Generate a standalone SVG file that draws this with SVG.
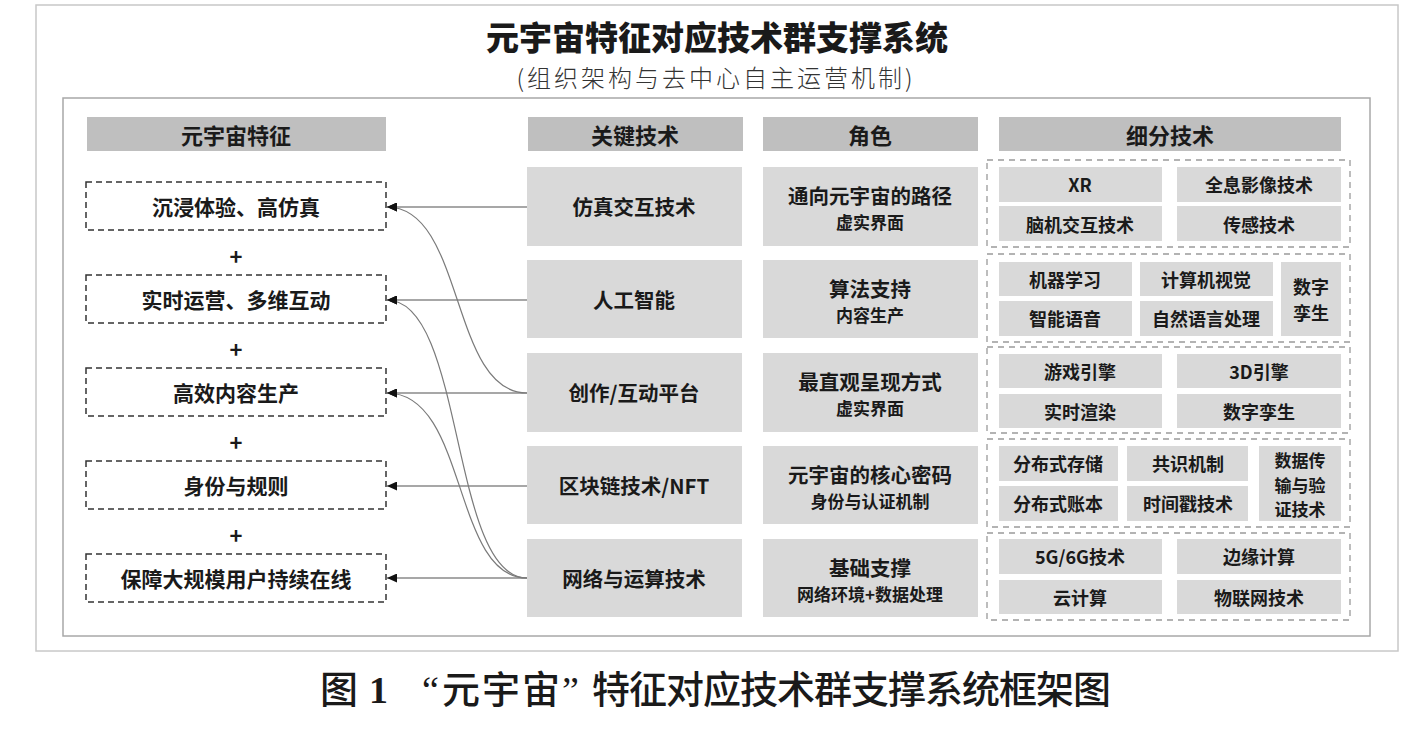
<svg xmlns="http://www.w3.org/2000/svg" width="1428" height="736" viewBox="0 0 1428 736">
<defs>
<style>
text{font-family:"Noto Sans CJK SC","Noto Sans",sans-serif;fill:#1a1a1a;text-anchor:middle;dominant-baseline:central}
.b{font-weight:700}
.hdr{fill:#bfbfbf}
.cell{fill:#d9d9d9}
.feat{fill:#fff;stroke:#333;stroke-width:1.5;stroke-dasharray:6 4}
.grp{fill:none;stroke:#9a9a9a;stroke-width:1.3;stroke-dasharray:6 5}
.h{font-size:22px;font-weight:700}
.f{font-size:21px;font-weight:700}
.k{font-size:20.5px;font-weight:700}
.m{font-size:20.5px;font-weight:700}
.s{font-size:17px;font-weight:700}
.c{font-size:18px;font-weight:700}
.c3{font-size:17px;font-weight:700}
.plus{font-size:22px;font-weight:700}
.ln{fill:none;stroke:#8a8a8a;stroke-width:1.3}
.cv{fill:none;stroke:#7a7a7a;stroke-width:1.2}
</style>
<marker id="ah" markerUnits="userSpaceOnUse" markerWidth="10" markerHeight="9" refX="10" refY="4.5" orient="auto">
<path d="M0,0 L10,4.5 L0,9 z" fill="#111"/>
</marker>
</defs>
<rect width="1428" height="736" fill="#fff"/>
<g id="frame">
<rect x="36" y="5" width="1362" height="646" fill="none" stroke="#c8c8c8" stroke-width="1.5"/>
<rect x="63" y="98" width="1307" height="538" fill="none" stroke="#a8a8a8" stroke-width="1.5"/>
</g>
<g id="title">
<text x="717" y="36" style="font-size:33px;font-weight:900">元宇宙特征对应技术群支撑系统</text>
<text x="716" y="76" style="font-size:24px;font-weight:300;fill:#333;letter-spacing:3px">(组织架构与去中心自主运营机制)</text>
</g>
<g id="headers">
<rect class="hdr" x="87" y="117" width="299" height="34"/><text class="h" x="236" y="134">元宇宙特征</text>
<rect class="hdr" x="528" y="117" width="215" height="34"/><text class="h" x="635" y="134">关键技术</text>
<rect class="hdr" x="763" y="117" width="215" height="34"/><text class="h" x="870" y="134">角色</text>
<rect class="hdr" x="999" y="117" width="342" height="34"/><text class="h" x="1170" y="134">细分技术</text>
</g>
<g id="features">
<g id="f1"><rect class="feat" x="86" y="182" width="300" height="48"/><text class="f" x="236" y="206">沉浸体验、高仿真</text></g>
<text class="plus" x="236" y="255">+</text>
<g id="f2"><rect class="feat" x="86" y="275" width="300" height="48"/><text class="f" x="236" y="299">实时运营、多维互动</text></g>
<text class="plus" x="236" y="348">+</text>
<g id="f3"><rect class="feat" x="86" y="368" width="300" height="48"/><text class="f" x="236" y="392">高效内容生产</text></g>
<text class="plus" x="236" y="441">+</text>
<g id="f4"><rect class="feat" x="86" y="461" width="300" height="48"/><text class="f" x="236" y="485">身份与规则</text></g>
<text class="plus" x="236" y="534">+</text>
<g id="f5"><rect class="feat" x="86" y="554" width="300" height="48"/><text class="f" x="236" y="578">保障大规模用户持续在线</text></g>
</g>
<g id="keytech">
<g id="k1"><rect class="cell" x="527" y="167" width="215" height="79"/><text class="k" x="634" y="206">仿真交互技术</text></g>
<g id="k2"><rect class="cell" x="527" y="260" width="215" height="78"/><text class="k" x="634" y="299">人工智能</text></g>
<g id="k3"><rect class="cell" x="527" y="353" width="215" height="79"/><text class="k" x="634" y="392">创作/互动平台</text></g>
<g id="k4"><rect class="cell" x="527" y="446" width="215" height="78"/><text class="k" x="634" y="485">区块链技术/NFT</text></g>
<g id="k5"><rect class="cell" x="527" y="539" width="215" height="78"/><text class="k" x="634" y="578">网络与运算技术</text></g>
</g>
<g id="roles">
<g id="r1"><rect class="cell" x="763" y="167" width="215" height="79"/><text class="m" x="870" y="195">通向元宇宙的路径</text><text class="s" x="870" y="221">虚实界面</text></g>
<g id="r2"><rect class="cell" x="763" y="260" width="215" height="78"/><text class="m" x="870" y="288">算法支持</text><text class="s" x="870" y="314">内容生产</text></g>
<g id="r3"><rect class="cell" x="763" y="353" width="215" height="79"/><text class="m" x="870" y="381">最直观呈现方式</text><text class="s" x="870" y="407">虚实界面</text></g>
<g id="r4"><rect class="cell" x="763" y="446" width="215" height="78"/><text class="m" x="870" y="474">元宇宙的核心密码</text><text class="s" x="870" y="500">身份与认证机制</text></g>
<g id="r5"><rect class="cell" x="763" y="539" width="215" height="78"/><text class="m" x="870" y="567">基础支撑</text><text class="s" x="870" y="593">网络环境+数据处理</text></g>
</g>
<g id="subtech">
<g id="g1">
<rect class="grp" x="987" y="160" width="363" height="87"/>
<rect class="cell" x="999" y="167" width="163" height="35"/><text class="c" x="1080" y="184">XR</text>
<rect class="cell" x="1177" y="167" width="164" height="35"/><text class="c" x="1259" y="184">全息影像技术</text>
<rect class="cell" x="999" y="206" width="163" height="35"/><text class="c" x="1080" y="224">脑机交互技术</text>
<rect class="cell" x="1177" y="206" width="164" height="35"/><text class="c" x="1259" y="224">传感技术</text>
</g>
<g id="g2">
<rect class="grp" x="987" y="254" width="363" height="88"/>
<rect class="cell" x="999" y="262" width="133" height="34"/><text class="c" x="1065" y="279">机器学习</text>
<rect class="cell" x="1140" y="262" width="133" height="34"/><text class="c" x="1206" y="279">计算机视觉</text>
<rect class="cell" x="999" y="301" width="133" height="35"/><text class="c" x="1065" y="318">智能语音</text>
<rect class="cell" x="1140" y="301" width="133" height="35"/><text class="c" x="1206" y="318">自然语言处理</text>
<rect class="cell" x="1281" y="262" width="60" height="74"/><text class="c" x="1311" y="286">数字<tspan x="1311" dy="26">孪生</tspan></text>
</g>
<g id="g3">
<rect class="grp" x="987" y="347" width="363" height="86"/>
<rect class="cell" x="999" y="354" width="163" height="34"/><text class="c" x="1080" y="371">游戏引擎</text>
<rect class="cell" x="1177" y="354" width="164" height="34"/><text class="c" x="1259" y="371">3D引擎</text>
<rect class="cell" x="999" y="394" width="163" height="34"/><text class="c" x="1080" y="411">实时渲染</text>
<rect class="cell" x="1177" y="394" width="164" height="34"/><text class="c" x="1259" y="411">数字孪生</text>
</g>
<g id="g4">
<rect class="grp" x="987" y="439" width="363" height="88"/>
<rect class="cell" x="999" y="446" width="119" height="35"/><text class="c" x="1058" y="463">分布式存储</text>
<rect class="cell" x="1127" y="446" width="121" height="35"/><text class="c" x="1188" y="463">共识机制</text>
<rect class="cell" x="999" y="486" width="119" height="35"/><text class="c" x="1058" y="503">分布式账本</text>
<rect class="cell" x="1127" y="486" width="121" height="35"/><text class="c" x="1188" y="503">时间戳技术</text>
<rect class="cell" x="1259" y="446" width="82" height="75"/><text class="c3" x="1300" y="459">数据传<tspan x="1300" dy="24.5">输与验</tspan><tspan x="1300" dy="24.5">证技术</tspan></text>
</g>
<g id="g5">
<rect class="grp" x="987" y="533" width="363" height="87"/>
<rect class="cell" x="999" y="539" width="163" height="35"/><text class="c" x="1080" y="556">5G/6G技术</text>
<rect class="cell" x="1177" y="539" width="164" height="35"/><text class="c" x="1259" y="556">边缘计算</text>
<rect class="cell" x="999" y="580" width="163" height="34"/><text class="c" x="1080" y="597">云计算</text>
<rect class="cell" x="1177" y="580" width="164" height="34"/><text class="c" x="1259" y="597">物联网技术</text>
</g>
</g>
<g id="connectors">
<line class="ln" x1="527" y1="207" x2="387" y2="207" marker-end="url(#ah)"/>
<line class="ln" x1="527" y1="300" x2="387" y2="300" marker-end="url(#ah)"/>
<line class="ln" x1="527" y1="393" x2="387" y2="393" marker-end="url(#ah)"/>
<line class="ln" x1="527" y1="486" x2="387" y2="486" marker-end="url(#ah)"/>
<line class="ln" x1="527" y1="578" x2="387" y2="578" marker-end="url(#ah)"/>
<path class="cv" d="M527,393 C450,393 465,207 387,207" marker-end="url(#ah)"/>
<path class="cv" d="M527,578 C450,578 465,300 387,300" marker-end="url(#ah)"/>
<path class="cv" d="M527,578 C452,578 468,393 387,393" marker-end="url(#ah)"/>
</g>
<g id="caption">
<text y="690" style="font-size:38px;font-weight:500;text-anchor:start;font-family:'Liberation Serif','Noto Sans CJK SC',serif"><tspan x="320">图</tspan><tspan x="369" style="font-weight:700">1</tspan><tspan x="422">“</tspan><tspan x="442" style="letter-spacing:2px">元宇宙</tspan><tspan x="562">”</tspan><tspan x="592" style="letter-spacing:-1px">特征对应技术群支撑系统框架图</tspan></text>
</g>
</svg>
